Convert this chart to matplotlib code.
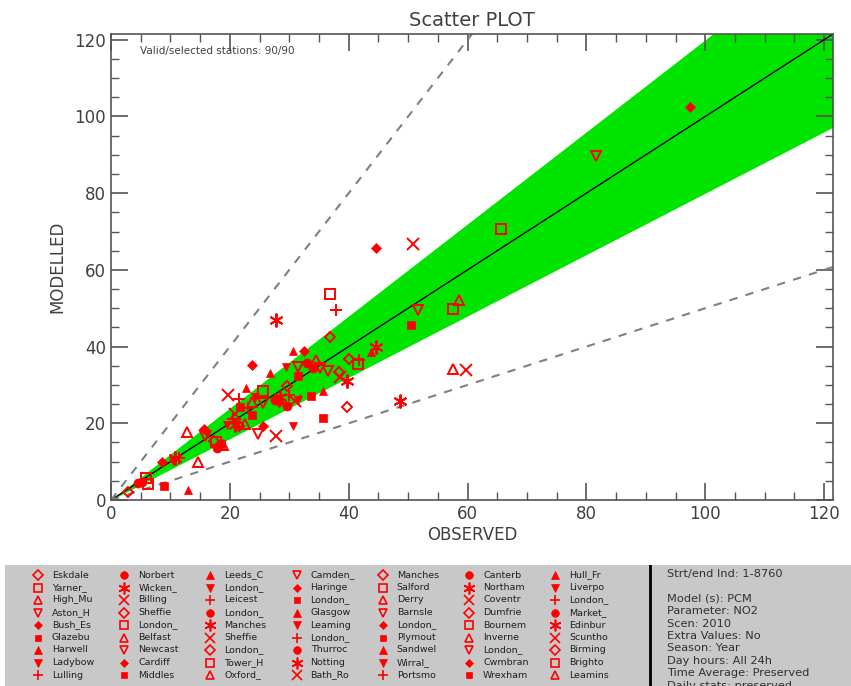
import numpy as np
import matplotlib
matplotlib.use('Agg')
import matplotlib.pyplot as plt
from matplotlib.patches import Rectangle
from matplotlib.ticker import MultipleLocator

# 站点观测值 / 模拟值 (按站点顺序, 符号按 12 个循环)
observed = [
    2.9, 65.6, 58.6, 81.7, 97.5, 50.5, 43.7, 29.4, 37.8, 4.5, 27.8, 50.8,
    29.6, 5.9, 12.8, 51.7, 44.6, 35.7, 30.6, 30.6, 21.5, 5.2, 44.6, 59.7,
    36.8, 36.8, 57.6, 31.4, 23.7, 33.6, 26.7, 19.5, 41.8, 17.8, 48.6, 19.7,
    39.7, 57.6, 14.6, 36.5, 32.4, 21.7, 22.8, 10.5, 11.5, 32.9, 39.7, 20.8,
    40.0, 41.5, 18.8, 25.5, 25.5, 23.7, 35.6, 31.5, 20.5, 34.0, 10.8, 27.7,
    38.3, 25.5, 23.7, 24.7, 15.7, 8.9, 13.0, 24.2, 23.0, 27.6, 28.5, 38.6,
    21.5, 17.6, 34.5, 15.8, 8.6, 31.4, 21.0, 16.2, 30.0, 29.7, 20.8, 30.9,
    17.3, 6.2, 22.5, 35.1, 28.2, 18.5,
]
modelled = [
    2.0, 70.6, 52.2, 89.8, 102.5, 45.5, 38.6, 34.8, 49.5, 4.5, 47.0, 66.8,
    29.6, 5.8, 17.8, 49.5, 65.8, 21.5, 38.9, 19.3, 26.4, 4.8, 40.0, 34.0,
    42.5, 53.8, 34.2, 34.8, 35.3, 27.0, 33.0, 19.5, 36.5, 13.5, 25.8, 27.5,
    24.3, 49.8, 10.0, 33.6, 38.9, 24.3, 29.3, 10.2, 11.0, 35.7, 31.0, 22.5,
    36.8, 35.5, 14.3, 25.4, 19.2, 22.2, 28.5, 26.2, 21.0, 34.4, 11.0, 16.7,
    33.3, 28.5, 25.6, 17.2, 18.5, 3.6, 2.5, 26.8, 24.0, 26.0, 26.8, 32.2,
    19.2, 15.2, 36.5, 16.7, 9.8, 32.3, 20.0, 17.2, 27.5, 24.5, 19.6, 25.7,
    15.5, 4.2, 19.8, 34.4, 25.5, 14.5,
]

legend_names = [
    'Eskdale', 'Yarner_', 'High_Mu', 'Aston_H', 'Bush_Es', 'Glazebu', 'Harwell', 'Ladybow', 'Lulling',
    'Norbert', 'Wicken_', 'Billing', 'Sheffie', 'London_', 'Belfast', 'Newcast', 'Cardiff', 'Middles',
    'Leeds_C', 'London_', 'Leicest', 'London_', 'Manches', 'Sheffie', 'London_', 'Tower_H', 'Oxford_',
    'Camden_', 'Haringe', 'London_', 'Glasgow', 'Leaming', 'London_', 'Thurroc', 'Notting', 'Bath_Ro',
    'Manches', 'Salford', 'Derry', 'Barnsle', 'London_', 'Plymout', 'Sandwel', 'Wirral_', 'Portsmo',
    'Canterb', 'Northam', 'Coventr', 'Dumfrie', 'Bournem', 'Inverne', 'London_', 'Cwmbran', 'Wrexham',
    'Hull_Fr', 'Liverpo', 'London_', 'Market_', 'Edinbur', 'Scuntho', 'Birming', 'Brighto', 'Leamins',
]

info_lines = [
    'Strt/end Ind: 1-8760', '',
    'Model (s): PCM', 'Parameter: NO2', 'Scen: 2010', 'Extra Values: No',
    'Season: Year', 'Day hours: All 24h', 'Time Average: Preserved', 'Daily stats: preserved',
]

# 符号循环: (marker, filled, size)
symbols = [
    ('D', False, 5.5), ('s', False, 6.5), ('^', False, 7.5), ('v', False, 7.5),
    ('D', True, 5.0), ('s', True, 5.5), ('^', True, 6.0), ('v', True, 6.0),
    ('+', True, 9.0), ('o', True, 6.5), ((6, 2, 0), True, 10.0), ('x', True, 8.0),
]

RED = '#ff0000'
TXT = '#404040'
W, H = 851, 686
fig = plt.figure(figsize=(W / 100, H / 100), dpi=100, facecolor='white')

ax = fig.add_axes([111 / W, (H - 500) / H, (833 - 111) / W, (500 - 34) / H])
lim = 121.5
ax.set_xlim(0, lim)
ax.set_ylim(0, lim)

xx = np.array([0, lim])
ax.fill_between(xx, xx * 0.8, xx * 1.2, color='#00e400', lw=0, zorder=1)
ax.plot(xx, xx, color='black', lw=1.0, zorder=2)
ax.plot(xx, xx * 2, color='#808080', lw=1.5, ls=(0, (4, 4)), zorder=2)
ax.plot(xx, xx * 0.5, color='#808080', lw=1.5, ls=(0, (4, 4)), zorder=2)


def draw_sym(a, x, y, idx, scale=1.0, **kw):
    m, filled, ms = symbols[idx % 12]
    lined = (not filled) or m in ('+', 'x') or isinstance(m, tuple)
    a.plot(x, y, ls='none', marker=m, ms=ms * scale, color=RED,
           markerfacecolor=RED if filled else 'none', markeredgecolor=RED,
           markeredgewidth=1.4 * scale if lined else 0.5, **kw)


for i, (o, mv) in enumerate(zip(observed, modelled)):
    draw_sym(ax, o, mv, i, zorder=3)

ax.xaxis.set_major_locator(MultipleLocator(20))
ax.yaxis.set_major_locator(MultipleLocator(20))
ax.xaxis.set_minor_locator(MultipleLocator(5))
ax.yaxis.set_minor_locator(MultipleLocator(5))
ax.tick_params(which='both', direction='in', top=True, right=True, colors='#555555',
               labelcolor=TXT, labelsize=12)
ax.tick_params(which='major', length=12, width=1.2)
ax.tick_params(which='minor', length=6, width=1.0)
for s in ax.spines.values():
    s.set_color('#555555')
    s.set_linewidth(1.2)

ax.set_xlabel('OBSERVED', fontsize=12, color=TXT, labelpad=2)
ax.set_ylabel('MODELLED', fontsize=12, color=TXT, labelpad=6)
ax.set_title('Scatter PLOT', fontsize=14, color=TXT, pad=6)
ax.text(0.04, 0.975, 'Valid/selected stations: 90/90', transform=ax.transAxes,
        fontsize=7.5, color=TXT, va='top', ha='left')

# 图例区 (像素坐标)
lax = fig.add_axes([0, 0, 1, (H - 565) / H])
lax.set_xlim(0, W)
lax.set_ylim(H, 565)
lax.axis('off')
lax.add_patch(Rectangle((5, 565), W, H - 565, facecolor='#c8c8c8', edgecolor='none', zorder=0))
lax.plot([650, 650], [565, H], color='black', lw=2, zorder=1)
for k, name in enumerate(legend_names):
    col, row = divmod(k, 9)
    sx = 38 + 86.2 * col
    sy = 575 + 12.5 * row
    draw_sym(lax, sx, sy, k, scale=0.85, zorder=2)
    lax.text(sx + 14, sy, name, fontsize=6.8, color='#202020', va='center', ha='left', zorder=2)

for j, line in enumerate(info_lines):
    lax.text(667, 574 + 12.4 * j, line, fontsize=8.2, color='#303030', va='center', ha='left', zorder=2)

fig.savefig('out.png', dpi=100, facecolor='white')
